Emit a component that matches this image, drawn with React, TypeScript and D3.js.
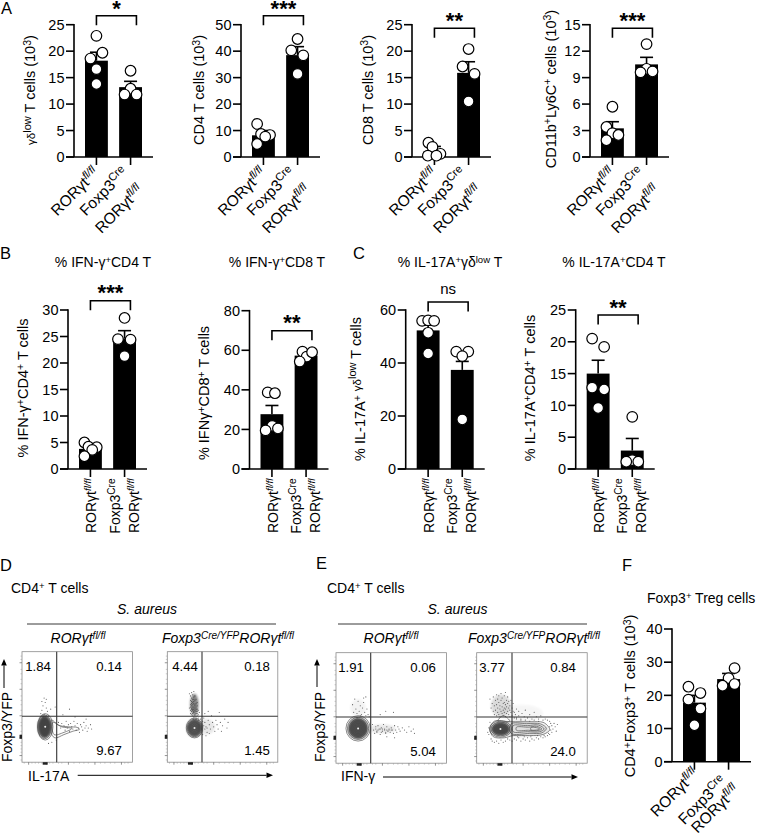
import React from "react";
import * as d3 from "d3";

const FONT = "'Liberation Sans', Arial, sans-serif";

// ---- bar groups
const groups = ["ctrl", "cre"];

const gdLowCtrl = [22.9, 19.7, 18.6, 16.6, 13.8];
const gdLowCre = [16.3, 12.9, 11.8, 11.8];
const gdLowMean = [18.2, 13.2];
const gdLowErr = [19.8, 14.3];
const gdLowCtrlJit = [0, 1, -1, 0, 0];
const gdLowCreJit = [0, 0, -1, 1];

const cd4Ctrl = [12.5, 8.7, 8.3, 7.7, 4.9];
const cd4Cre = [44.6, 40.3, 38.4, 31.4];
const cd4Mean = [8.2, 38.5];
const cd4Err = [10.0, 41.7];
const cd4CtrlJit = [-1.05, -0.4, 1.1, 0.3, -1.05];
const cd4CreJit = [0, -1.05, 0.95, 0];

const cd8Ctrl = [2.7, 1.9, 0.6, 0.25, 0.25];
const cd8Cre = [20.4, 17.1, 15.7, 10.5];
const cd8Mean = [1.0, 15.9];
const cd8Err = [2.0, 18.0];
const cd8CtrlJit = [-1, -0.33, 1, -1.1, 0.33];
const cd8CreJit = [0, -1, 1, 0];

const cd11Ctrl = [5.7, 3.4, 2.7, 2.5, 1.9];
const cd11Cre = [12.8, 10.0, 9.6, 9.7];
const cd11Mean = [3.25, 10.5];
const cd11Err = [4.0, 11.3];
const cd11CtrlJit = [0, -1, 0, 1, -1];
const cd11CreJit = [0, 0, -1, 1];

const ifnCd4Ctrl = [5.0, 4.2, 4.1, 3.6, 2.4];
const ifnCd4Cre = [28.5, 24.5, 24.4, 21.3];
const ifnCd4Mean = [3.8, 24.6];
const ifnCd4Err = [4.6, 26.1];
const ifnCd4CtrlJit = [-1, -0.33, 1.05, 0.3, -1];
const ifnCd4CreJit = [0, -1.1, 1, 0];

const ifnCd8Ctrl = [38.7, 38.3, 21.8, 19.5, 20.5];
const ifnCd8Cre = [59.3, 56.8, 59, 54.3];
const ifnCd8Mean = [27.7, 57.3];
const ifnCd8Err = [32.1, 59.2];
const ifnCd8CtrlJit = [-0.7, 0.5, 0.05, -1.05, 1];
const ifnCd8CreJit = [-0.6, 0.1, 1, -1.05];

const il17GdCtrl = [55.9, 56.1, 55.9, 51.4, 43.6];
const il17GdCre = [44.3, 44.3, 42.6, 18.7];
const il17GdMean = [52.3, 37.4];
const il17GdErr = [54.3, 40.6];
const il17GdCtrlJit = [-1, 0, 1, 0, 0];
const il17GdCreJit = [-1, 1, 0, 0];

const il17Cd4Ctrl = [20.5, 19.2, 12.8, 12.5, 9.6];
const il17Cd4Cre = [8.2, 1.4, 1.15, 1.15];
const il17Cd4Mean = [15.0, 2.9];
const il17Cd4Err = [17.1, 4.8];
const il17Cd4CtrlJit = [-1, 1, -1, 1, 0];
const il17Cd4CreJit = [0, 0, -1, 1];

const tregCtrl = [22.6, 20.7, 18.7, 16, 11];
const tregCre = [28.2, 25.2, 22.9, 23.4];
const tregMean = [17.8, 24.9];
const tregErr = [20, 26.6];
const tregCtrlJit = [-1, 1, -1, 1, 0];
const tregCreJit = [1, 0, -1, 1];

const ticks25 = [0, 5, 10, 15, 20, 25];
const ticks50 = [0, 10, 20, 30, 40, 50];
const ticks15 = [0, 3, 6, 9, 12, 15];
const ticks30 = [0, 5, 10, 15, 20, 25, 30];
const ticks80 = [0, 20, 40, 60, 80];
const ticks60 = [0, 20, 40, 60];
const ticks40 = [0, 10, 20, 30, 40];

// ---- flow cytometry read-offs (percent of the plot frame)
const d1Dots = [18,47,19,51,21,54,20,58,22,49,17,44,23,46,20,43,19,41,24,42,18,55,22,57,26,48,33,36,35,31,36,35,38,33,39,29,40,37,41,31,42,34,43,28,44,35,45,32,46,30,47,37,48,33,49,29,50,35,51,31,52,27,53,34,54,32,55,29,56,36,57,31,58,33,59,28,60,31,62,34,63,30,30,50,37,43,43,48,48,41,58,39,27,18,24,17,31,20];
const d2Dots = [20,62,21,60,22,63,23,61,24,64,22,58,23,57,24,59,25,60,21,56,22,55,23,54,24,55,25,56,26,57,21,52,22,51,23,52,24,53,25,52,26,53,27,54,20,49,21,50,22,49,23,48,24,50,25,49,26,50,27,48,21,47,22,46,23,47,24,46,25,47,26,46,27,46,28,47,21,44,22,43,23,44,24,45,25,43,26,44,27,44,28,43,29,45,23,42,24,41,25,42,26,41,27,42,28,40,24,39,26,39,28,38,30,39,22,48,24,48,26,48,25,51,23,50,27,51,22,53,24,57,33,40,34,36,35,32,36,27,37,38,38,34,39,30,40,42,41,36,42,32,43,28,44,38,45,34,46,30,47,45,48,36,49,28,50,33,52,39,54,31,55,36,34,44,37,46,32,25,35,24,38,26,31,30,33,33,32,37,34,30,36,31];
const e1Dots = [15,53,17,58,18,49,19,45,20,56,21,47,22,52,23,44,24,50,25,55,26,46,27,43,28,49,29,44,16,46,22,43,25,59,19,41,30,42,27,60,33,35,34,30,35,27,36,33,37,29,38,34,39,31,40,26,41,32,42,29,43,35,44,30,45,27,46,33,47,29,48,31,49,28,50,32,51,30,52,27,53,34,54,30,55,28,56,33,57,31,58,29,60,32,62,30,64,28,66,33,68,29,70,31,71,27,36,31,38,30,40,31,42,31,44,31,46,30,48,30,50,30,37,28,41,28,45,28,40,44,45,47,52,46,46,24,53,23];
const e2Dots = [12,58,13,50,14,54,15,47,15,60,16,44,16,52,17,57,17,48,18,62,18,43,18,53,19,50,19,46,19,58,20,55,20,44,20,61,21,49,21,52,21,42,22,47,22,57,22,63,23,51,23,45,23,59,24,54,24,43,24,48,25,50,25,61,25,46,25,55,26,53,26,42,26,64,26,49,27,57,27,45,27,51,28,47,28,54,28,60,29,44,29,50,29,56,30,48,30,52,30,42,31,46,31,57,32,43,32,50,33,47,33,54,34,41,34,46,35,44,36,49,36,41,38,43,38,47,40,40,41,45,43,42,44,48,46,41,48,44,50,40,52,46,54,42,56,40,58,43,12,37,11,32,10,28,11,26,13,22,14,20,16,19,18,20,20,18,22,21,24,19,26,20,28,22,30,21,32,20,34,22,36,21,38,23,40,20,42,22,44,21,46,23,48,20,50,22,52,21,54,23,56,22,58,24,60,23,62,24,64,25,66,26,68,28,69,31,68,34,67,36,66,38,64,39,62,40,60,39,56,38,52,39,48,38,44,39,40,39,36,40,72,29,71,33,70,36,73,35,37,24,43,24,49,24,55,25,61,25,65,27,67,30,66,33];
const d1Ellipses = [[21,32,7,12],[20.5,32,6.2,10.8],[20.5,32,5.4,9.5],[20.5,32,4.6,8.2],[20.5,32,3.8,7],[20.5,32,3,5.6],[20.5,32,2.2,4.2],[20.5,32,1.4,2.6]];
const d2Ellipses = [[24.6,31,7.4,9],[24.6,31,6.4,7.9],[24.6,31,5.4,6.7],[24.6,31,4.5,5.6],[24.6,31,3.6,4.6],[24.6,31,2.6,3.4],[24.6,31,1.5,2]];
const e1Ellipses = [[20,31.5,11,11.5],[20,31.5,9.6,10],[20,31.5,8,8.6],[20,31.5,6.8,7.3],[20,31.5,5.6,6],[20,31.5,4.4,4.7],[20,31.5,3.2,3.4],[20,31.5,1.8,2]];
const e2Ellipses = [[21.5,31,10,7.4],[21.5,31,8.6,6.2],[21.5,31,7,5],[21.5,31,5.4,3.9],[21.5,31,3.8,2.8],[21.5,31,2.2,1.6]];
const d1Curves = [
  [[27,38],[33,33.5],[42,32],[50,31.5],[52,29.8],[46,28],[38,25],[30,22],[27,25]],
  [[28,36],[36,32],[45,30.5],[38,27],[29,25]],
];
const e2Curves = [
  [[12,31],[16,38],[30,37.5],[40,37.5],[50,37.5],[60,37],[65,33],[66,30],[60,26],[48,25],[33,25],[25,23],[15,24]],
  [[31,35.5],[45,35.8],[58,35.5],[63,31.5],[59,27.5],[48,27],[31,27]],
  [[33,34],[46,34],[56,34.5],[61,31],[57,28.5],[46,28.5],[33,28.5]],
  [[36,32.6],[47,32.6],[54,33.4],[59,31],[54,29.3],[47,29.8],[36,29.8]],
  [[49,32.2],[54,32.2],[57,31],[54,30],[49,30.2]],
  [[24,43],[19,38],[30,38]],
];
// density clouds: [cx, cy, rx, ry, opacity] in frame percent
const d1Clouds = [[20.5,32,6,10,0.85]];
const d2Clouds = [[24.5,52,3.8,10,0.55],[24.6,31,7,8,0.75],[35,32,8,7,0.1]];
const e1Clouds = [[20,31.5,9,9.5,0.8],[20,50,7,8,0.05],[42,31,12,4,0.1]];
const e2Clouds = [[22,52,9,10,0.16],[21.5,31,8.5,6,0.8],[40,31,25,7,0.14],[40,45,20,8,0.04]];
const flowMajorTicks = [6, 22, 42, 66, 90];
const flowMinorTicks = [2, 9, 12, 15, 18, 25, 28, 33, 36, 47, 52, 56, 60, 71, 75, 80, 84, 93, 96];

const bracketStars = ["*", "***", "**", "***", "***", "**", "ns", "**"];

const sc = (s) => <tspan dy={-4.5} fontSize={10.5}>{s}</tspan>;
const back = (s, dy = 4.5) => <tspan dy={dy}>{s}</tspan>;

const flFl = (size) => <tspan dy={-size * 0.36} fontSize={size * 0.7} fontStyle="italic">fl/fl</tspan>;
const creSup = (size) => <tspan dy={-size * 0.36} fontSize={size * 0.72}>Cre</tspan>;

const small = (s) => <tspan fontSize={11.5}>{s}</tspan>;

const gdLabel = <>{small("γδ")}<tspan dy={-4} fontSize={11}>low</tspan><tspan dy={4}> T cells (10</tspan>{sc("3")}{back(")")}</>;
const cd4Label = <>CD4 T cells (10{sc("3")}{back(")")}</>;
const cd8Label = <>CD8 T cells (10{sc("3")}{back(")")}</>;
const cd11Label = <>CD11b{sc("+")}{back("Ly6C")}{sc("+")}{back(" cells (10")}{sc("3")}{back(")")}</>;
const ifnCd4Label = <>% IFN-γ{sc("+")}{back("CD4")}{sc("+")}{back(" T cells")}</>;
const ifnCd8Label = <>% IFNγ{sc("+")}{back("CD8")}{sc("+")}{back(" T cells")}</>;
const il17GdLabel = <>% IL-17A{sc("+")} {small("γδ")}<tspan dy={-4.5} fontSize={11}>low</tspan><tspan dy={4.5}> T cells</tspan></>;
const il17Cd4Label = <>% IL-17A{sc("+")}{back("CD4")}{sc("+")}{back(" T cells")}</>;
const tregLabel = <>CD4{sc("+")}{back("Foxp3")}{sc("+")}{back(" T cells (10")}{sc("3")}{back(")")}</>;

const rotA = [[3.5, 17], [-1.5, 16.5], [13.5, 34.5]];
const rotF = [[5, 13.3], [-1, 20.5], [11.5, 29.5]];

const panels = [
  { axisX: 74, y0: 157, yTop: 24.7, yMax: 25, ticks: ticks25, ctrl: gdLowCtrl, cre: gdLowCre, cj: gdLowCtrlJit, rj: gdLowCreJit, mean: gdLowMean, err: gdLowErr, label: gdLabel, labelX: 35, labelY: 90, bracketTop: 15.7, star: bracketStars[0], starY: 15.5, rot: rotA },
  { axisX: 241, y0: 157, yTop: 24.7, yMax: 50, ticks: ticks50, ctrl: cd4Ctrl, cre: cd4Cre, cj: cd4CtrlJit, rj: cd4CreJit, mean: cd4Mean, err: cd4Err, label: cd4Label, labelX: 204, labelY: 90, bracketTop: 15.7, star: bracketStars[1], starY: 15.5, rot: rotA },
  { axisX: 412, y0: 157, yTop: 24.7, yMax: 25, ticks: ticks25, ctrl: cd8Ctrl, cre: cd8Cre, cj: cd8CtrlJit, rj: cd8CreJit, mean: cd8Mean, err: cd8Err, label: cd8Label, labelX: 372.7, labelY: 90, bracketTop: 28.3, star: bracketStars[2], starY: 28, rot: rotA },
  { axisX: 590, y0: 157, yTop: 24.7, yMax: 15, ticks: ticks15, ctrl: cd11Ctrl, cre: cd11Cre, cj: cd11CtrlJit, rj: cd11CreJit, mean: cd11Mean, err: cd11Err, label: cd11Label, labelX: 555.7, labelY: 89, bracketTop: 28.3, star: bracketStars[3], starY: 28, rot: rotA },
  { axisX: 68, y0: 469, yTop: 310, yMax: 30, ticks: ticks30, ctrl: ifnCd4Ctrl, cre: ifnCd4Cre, cj: ifnCd4CtrlJit, rj: ifnCd4CreJit, mean: ifnCd4Mean, err: ifnCd4Err, label: ifnCd4Label, labelX: 28, labelY: 388, bracketTop: 300.7, star: bracketStars[4], starY: 300, rot: null },
  { axisX: 249.5, y0: 469, yTop: 310.7, yMax: 80, ticks: ticks80, ctrl: ifnCd8Ctrl, cre: ifnCd8Cre, cj: ifnCd8CtrlJit, rj: ifnCd8CreJit, mean: ifnCd8Mean, err: ifnCd8Err, label: ifnCd8Label, labelX: 209, labelY: 393, bracketTop: 330.7, star: bracketStars[5], starY: 330, rot: null },
  { axisX: 405.7, y0: 469, yTop: 310, yMax: 60, ticks: ticks60, ctrl: il17GdCtrl, cre: il17GdCre, cj: il17GdCtrlJit, rj: il17GdCreJit, mean: il17GdMean, err: il17GdErr, label: il17GdLabel, labelX: 365, labelY: 389, bracketTop: 302, star: bracketStars[6], starY: 295, rot: null },
  { axisX: 575.7, y0: 469, yTop: 310, yMax: 25, ticks: ticks25, ctrl: il17Cd4Ctrl, cre: il17Cd4Cre, cj: il17Cd4CtrlJit, rj: il17Cd4CreJit, mean: il17Cd4Mean, err: il17Cd4Err, label: il17Cd4Label, labelX: 535, labelY: 388, bracketTop: 315, star: bracketStars[7], starY: 315, rot: null },
  { axisX: 672, y0: 761.7, yTop: 629, yMax: 40, ticks: ticks40, ctrl: tregCtrl, cre: tregCre, cj: tregCtrlJit, rj: tregCreJit, mean: tregMean, err: tregErr, label: tregLabel, labelX: 635, labelY: 696, bracketTop: null, star: null, starY: 0, rot: rotF },
];

const STROKE = 1.6;

function BarPanel({ p }) {
  const y = d3.scaleLinear().domain([0, p.yMax]).range([p.y0, p.yTop]);
  const x = d3.scaleBand().domain(groups).range([p.axisX + 11, p.axisX + 68]).paddingInner(0.33);
  const bw = x.bandwidth();
  const cx = (g) => x(g) + bw / 2;
  const J = 6;
  const series = [
    { g: "ctrl", vals: p.ctrl, jit: p.cj, i: 0 },
    { g: "cre", vals: p.cre, jit: p.rj, i: 1 },
  ];
  const tickLen = 8;
  const tf = 14.5;
  return (
    <g>
      {series.map((s) => (
        <rect key={s.g} x={x(s.g)} y={y(p.mean[s.i])} width={bw} height={p.y0 - y(p.mean[s.i])} fill="#000" />
      ))}
      {series.map((s) => (
        <g key={s.g} stroke="#000" strokeWidth={STROKE} fill="none">
          <line x1={cx(s.g)} x2={cx(s.g)} y1={y(p.mean[s.i])} y2={y(p.err[s.i])} />
          <line x1={cx(s.g) - 6.5} x2={cx(s.g) + 6.5} y1={y(p.err[s.i])} y2={y(p.err[s.i])} />
        </g>
      ))}
      <line x1={p.axisX} x2={p.axisX} y1={p.yTop - 0.8} y2={p.y0} stroke="#000" strokeWidth={STROKE} />
      <line x1={p.axisX - tickLen} x2={p.axisX + 79} y1={p.y0} y2={p.y0} stroke="#000" strokeWidth={STROKE} />
      {p.ticks.map((t) => (
        <g key={t}>
          <line x1={p.axisX - tickLen} x2={p.axisX} y1={y(t)} y2={y(t)} stroke="#000" strokeWidth={STROKE} />
          <text x={p.axisX - 9.5} y={y(t) + 5.2} textAnchor="end" fontSize={tf}>{t}</text>
        </g>
      ))}
      {groups.map((g) => (
        <line key={g} x1={cx(g)} x2={cx(g)} y1={p.y0} y2={p.y0 + 8} stroke="#000" strokeWidth={STROKE} />
      ))}
      {series.map((s) =>
        s.vals.map((v, i) => (
          <circle key={s.g + i} cx={cx(s.g) + s.jit[i] * J} cy={y(v)} r={5.3} fill="#fff" stroke="#000" strokeWidth={1.2} />
        ))
      )}
      <text transform={`translate(${p.labelX},${p.labelY}) rotate(-90)`} textAnchor="middle" fontSize={14.5}>{p.label}</text>
      {p.bracketTop !== null && (
        <>
          <path
            d={`M${cx("ctrl")},${p.bracketTop + 9.5}V${p.bracketTop}H${cx("ctrl") + 40}V${p.bracketTop + 9.5}`}
            fill="none" stroke="#000" strokeWidth={1.6}
          />
          {p.star === "ns" ? (
            <text x={cx("ctrl") + 20} y={p.starY - 1} textAnchor="middle" fontSize={15}>ns</text>
          ) : (
            <text x={cx("ctrl") + 20} y={p.starY} textAnchor="middle" fontSize={22} fontWeight="bold">{p.star}</text>
          )}
        </>
      )}
      {p.rot ? (
        <g fontSize={15.5}>
          <text transform={`translate(${cx("ctrl") + p.rot[0][0]},${p.y0 + p.rot[0][1]}) rotate(-45)`} textAnchor="end">RORγt{flFl(15.5)}</text>
          <text transform={`translate(${cx("cre") + p.rot[1][0]},${p.y0 + p.rot[1][1]}) rotate(-45)`} textAnchor="end">Foxp3{creSup(15.5)}</text>
          <text transform={`translate(${cx("cre") + p.rot[2][0]},${p.y0 + p.rot[2][1]}) rotate(-45)`} textAnchor="end">RORγt{flFl(15.5)}</text>
        </g>
      ) : (
        <g fontSize={14}>
          <text transform={`translate(${cx("ctrl") + 6},${p.y0 + 9.5}) rotate(-90)`} textAnchor="end">RORγt{flFl(14)}</text>
          <text transform={`translate(${cx("cre") - 5},${p.y0 + 9.5}) rotate(-90)`} textAnchor="end">Foxp3{creSup(14)}</text>
          <text transform={`translate(${cx("cre") + 14},${p.y0 + 9.5}) rotate(-90)`} textAnchor="end">RORγt{flFl(14)}</text>
        </g>
      )}
    </g>
  );
}

function FlowPlot({ left, top, size = 110.5, gx, gy, dots, ellipses, curves, nums, clouds }) {
  const x = d3.scaleLinear().domain([0, 100]).range([left, left + size]);
  const y = d3.scaleLinear().domain([0, 100]).range([top + size, top]);
  const line = d3.line().x((d) => x(d[0])).y((d) => y(d[1])).curve(d3.curveCatmullRomClosed);
  const pts = d3.range(0, dots.length, 2).map((i) => [dots[i], dots[i + 1]]);
  const numY = [top + 19, top + 103];
  const colX = [nums[0][0], nums[0][1]];
  const k = size / 100;
  return (
    <g>
      <rect x={left} y={top} width={size} height={size} fill="#fff" stroke="#8a8a8a" strokeWidth={0.8} />
      {flowMajorTicks.map((t) => (
        <g key={t} stroke="#666" strokeWidth={0.7}>
          <line x1={left - 2.5} x2={left} y1={y(t)} y2={y(t)} />
          <line x1={x(t)} x2={x(t)} y1={top + size} y2={top + size + 2.5} />
        </g>
      ))}
      {flowMinorTicks.map((t) => (
        <g key={t} stroke="#999" strokeWidth={0.5}>
          <line x1={left - 1.5} x2={left} y1={y(t)} y2={y(t)} />
          <line x1={x(t)} x2={x(t)} y1={top + size} y2={top + size + 1.5} />
        </g>
      ))}
      <rect x={left - 2.5} y={y(23) - 2} width={2.5} height={4} fill="#222" />
      <rect x={x(21) - 2.5} y={top + size} width={5} height={2.5} fill="#222" />
      {clouds.map((c, i) => (
        <ellipse key={i} cx={x(c[0])} cy={y(c[1])} rx={c[2] * k} ry={c[3] * k} fill="#222" opacity={c[4]} filter="url(#soft)" />
      ))}
      {pts.map((d, i) => (
        <circle key={i} cx={x(d[0])} cy={y(d[1])} r={0.55} fill="#333" opacity={0.8} />
      ))}
      {curves.map((c, i) => (
        <path key={i} d={line(c)} fill="none" stroke="#555" strokeWidth={0.7} />
      ))}
      {ellipses.map((e, i) => (
        <ellipse key={i} cx={x(e[0])} cy={y(e[1])} rx={e[2] * k} ry={e[3] * k} fill="none" stroke="#444" strokeWidth={0.6} />
      ))}
      <ellipse cx={x(ellipses[0][0])} cy={y(ellipses[0][1])} rx={1} ry={1} fill="#eee" />
      <line x1={gx} x2={gx} y1={top} y2={top + size} stroke="#333" strokeWidth={1.1} />
      <line x1={left} x2={left + size} y1={gy} y2={gy} stroke="#333" strokeWidth={1.1} />
      <g fontSize={13.2} textAnchor="middle">
        <text x={colX[0]} y={numY[0]}>{nums[1][0]}</text>
        <text x={colX[1]} y={numY[0]}>{nums[1][1]}</text>
        <text x={colX[1]} y={numY[1]}>{nums[1][2]}</text>
      </g>
    </g>
  );
}

function Arrow({ x1, y1, x2, y2 }) {
  const ang = Math.atan2(y2 - y1, x2 - x1);
  const h = 6.5, w = 2.8;
  const bx = x2 - h * Math.cos(ang), by = y2 - h * Math.sin(ang);
  const nx = -Math.sin(ang) * w, ny = Math.cos(ang) * w;
  return (
    <g>
      <line x1={x1} y1={y1} x2={bx} y2={by} stroke="#000" strokeWidth={1} />
      <path d={`M${x2},${y2}L${bx + nx},${by + ny}L${bx - nx},${by - ny}Z`} fill="#000" />
    </g>
  );
}

const FLFL_I = <tspan dy={-4.5} fontSize={10}>fl/fl</tspan>;
const CD4Head = ({ x }) => <text x={x} y={593} fontSize={14}>CD4<tspan dy={-4.5} fontSize={9.5}>+</tspan><tspan dy={4.5}> T cells</tspan></text>;

export default function App() {
  return (
    <svg width={760} height={833} viewBox="0 0 760 833" style={{ position: "absolute", left: 0, top: 0, display: "block", background: "#fff" }} fontFamily={FONT} fill="#000">
      <defs>
        <filter id="soft" x="-30%" y="-30%" width="160%" height="160%"><feGaussianBlur stdDeviation="0.9" /></filter>
      </defs>
      <g fontSize={16.5}>
        <text x={1} y={14}>A</text>
        <text x={0} y={259}>B</text>
        <text x={353} y={259}>C</text>
        <text x={0} y={571}>D</text>
        <text x={316} y={569}>E</text>
        <text x={622} y={571}>F</text>
      </g>
      <g fontSize={14} textAnchor="middle">
        <text x={103} y={266.5}>% IFN-γ<tspan dy={-4} fontSize={9.5}>+</tspan><tspan dy={4}>CD4 T</tspan></text>
        <text x={277} y={266.5}>% IFN-γ<tspan dy={-4} fontSize={9.5}>+</tspan><tspan dy={4}>CD8 T</tspan></text>
        <text x={450} y={266.5}>% IL-17A<tspan dy={-4} fontSize={9.5}>+</tspan><tspan dy={4}>γδ</tspan><tspan dy={-4} fontSize={9.5}>low</tspan><tspan dy={4}> T</tspan></text>
        <text x={614} y={266.5}>% IL-17A<tspan dy={-4} fontSize={9.5}>+</tspan><tspan dy={4}>CD4 T</tspan></text>
      </g>
      <text x={647} y={603} fontSize={14}>Foxp3<tspan dy={-4} fontSize={9.5}>+</tspan><tspan dy={4}> Treg cells</tspan></text>

      {panels.map((p, i) => <BarPanel key={i} p={p} />)}

      <CD4Head x={11} />
      <CD4Head x={327} />
      <g fontSize={14} fontStyle="italic" textAnchor="middle">
        <text x={147} y={613.5}>S. aureus</text>
        <text x={457.5} y={613.5}>S. aureus</text>
        <text x={78} y={643}>RORγt{FLFL_I}</text>
        <text x={391} y={643}>RORγt{FLFL_I}</text>
      </g>
      <g fontSize={14} fontStyle="italic">
        <text x={162} y={643}>Foxp3<tspan dy={-4.5} fontSize={10}>Cre/YFP</tspan><tspan dy={4.5}>RORγt</tspan>{FLFL_I}</text>
        <text x={468} y={643}>Foxp3<tspan dy={-4.5} fontSize={10}>Cre/YFP</tspan><tspan dy={4.5}>RORγt</tspan>{FLFL_I}</text>
      </g>
      <line x1={27} x2={276} y1={624} y2={624} stroke="#222" strokeWidth={0.9} />
      <line x1={338} x2={587} y1={624} y2={624} stroke="#222" strokeWidth={0.9} />

      <FlowPlot left={22} top={651.7} gx={56.7} gy={716.3} dots={d1Dots} ellipses={d1Ellipses} curves={d1Curves} clouds={d1Clouds} nums={[[38, 109], ["1.84", "0.14", "9.67"]]} />
      <FlowPlot left={167.3} top={651.7} gx={202} gy={716.3} dots={d2Dots} ellipses={d2Ellipses} curves={[]} clouds={d2Clouds} nums={[[185, 257], ["4.44", "0.18", "1.45"]]} />
      <FlowPlot left={336} top={652.7} gx={370.7} gy={717} dots={e1Dots} ellipses={e1Ellipses} curves={[]} clouds={e1Clouds} nums={[[351, 423], ["1.91", "0.06", "5.04"]]} />
      <FlowPlot left={476.7} top={652.7} gx={512} gy={717} dots={e2Dots} ellipses={e2Ellipses} curves={e2Curves} clouds={e2Clouds} nums={[[492, 563], ["3.77", "0.84", "24.0"]]} />

      <text transform="translate(12,762) rotate(-90)" fontSize={14}>Foxp3/YFP</text>
      <Arrow x1={4} y1={688} x2={4} y2={659} />
      <text x={28} y={780.7} fontSize={14}>IL-17A</text>
      <Arrow x1={77.7} y1={775.3} x2={273} y2={775.3} />
      <text transform="translate(325,762) rotate(-90)" fontSize={14}>Foxp3/YFP</text>
      <Arrow x1={317} y1={687} x2={317} y2={659} />
      <text x={341} y={780.7} fontSize={14}>IFN-γ</text>
      <Arrow x1={383} y1={777} x2={578} y2={777} />
    </svg>
  );
}
